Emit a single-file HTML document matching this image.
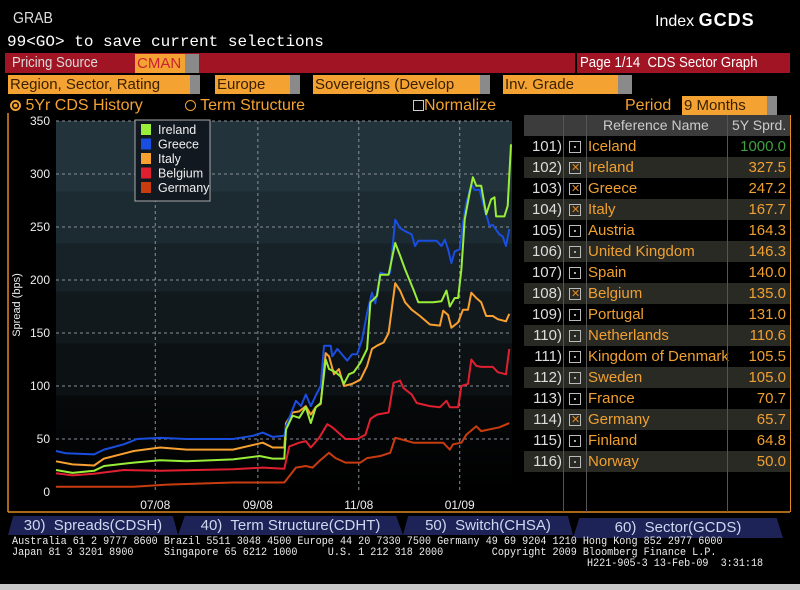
<!DOCTYPE html>
<html><head><meta charset="utf-8">
<style>
*{margin:0;padding:0;box-sizing:border-box}
html,body{width:800px;height:590px;background:#000;overflow:hidden;font-family:"Liberation Sans",sans-serif;color:#ddd;position:relative}
.a{position:absolute;white-space:nowrap}
.t{font-size:15px;transform-origin:0 50%;transform:scaleX(0.88);line-height:18px}
.box{position:absolute;height:19px;background:#f4a232;color:#3a2000;font-size:15px;line-height:19px;padding-left:2px;overflow:hidden;white-space:nowrap}
.tail{position:absolute;height:19px;background:#8a8a8a}
.tab{position:absolute;top:516px;height:19px;background:#1d2356;color:#cdd8f0;font-size:15px;line-height:19px;text-align:center;clip-path:polygon(3% 0,97% 0,100% 100%,0 100%)}
.foot{font-family:"Liberation Mono",monospace;font-size:11px;color:#eee;line-height:11px;transform-origin:0 0;transform:scaleX(0.92)}
</style></head>
<body>
<div class="a t" style="left:13px;top:10px;font-size:16px">GRAB</div>
<div class="a" style="left:655px;top:10px;font-size:16px;color:#fff">Index <b style="font-size:18px;letter-spacing:1px">GCDS</b></div>
<div class="a" style="left:7px;top:33px;font-family:'Liberation Mono',monospace;font-size:16px;color:#fff">99&lt;GO&gt; to save current selections</div>

<div class="a" style="left:5px;top:53px;width:570px;height:20px;background:#a01424"></div>
<div class="a" style="left:577px;top:53px;width:213px;height:20px;background:#a01424"></div>
<div class="a t" style="left:12px;top:54px;color:#ddd">Pricing Source</div>
<div class="box" style="left:135px;top:54px;width:50px;color:#c23">CMAN</div>
<div class="tail" style="left:185px;top:54px;width:14px"></div>
<div class="a t" style="left:580px;top:54px;color:#fff">Page 1/14&nbsp; CDS Sector Graph</div>

<div class="box" style="left:8px;top:75px;width:182px">Region, Sector, Rating</div>
<div class="tail" style="left:190px;top:75px;width:10px"></div>
<div class="box" style="left:215px;top:75px;width:75px">Europe</div>
<div class="tail" style="left:290px;top:75px;width:10px"></div>
<div class="box" style="left:313px;top:75px;width:167px">Sovereigns (Develop</div>
<div class="tail" style="left:480px;top:75px;width:10px"></div>
<div class="box" style="left:503px;top:75px;width:115px">Inv. Grade</div>
<div class="tail" style="left:618px;top:75px;width:14px"></div>

<div class="a" style="left:10px;top:97px;font-size:16px;color:#f4a232"><span style="display:inline-block;width:11px;height:11px;border-radius:50%;border:2px solid #f4a232;background:radial-gradient(#f4a232 40%,#000 45%);vertical-align:-1px"></span> 5Yr CDS History</div>
<div class="a" style="left:185px;top:97px;font-size:16px;color:#f4a232"><span style="display:inline-block;width:11px;height:11px;border-radius:50%;border:1.5px solid #f4a232;vertical-align:-1px"></span> Term Structure</div>
<div class="a" style="left:413px;top:97px;font-size:16px;color:#f4a232"><span style="display:inline-block;width:11px;height:11px;border:1px solid #ccc;vertical-align:-1px"></span>Normalize</div>
<div class="a" style="left:625px;top:97px;font-size:16px;color:#f4a232">Period</div>
<div class="box" style="left:682px;top:96px;width:85px;height:19px">9 Months</div>
<div class="tail" style="left:767px;top:96px;width:10px"></div>

<svg id="chart" class="a" style="left:0;top:0" width="800" height="590">
<defs>
<linearGradient id="bg" x1="0" y1="0" x2="0" y2="1">
<stop offset="0" stop-color="#22333c"/><stop offset="0.19" stop-color="#22333c"/>
<stop offset="0.19" stop-color="#1c2a32"/><stop offset="0.33" stop-color="#1c2a32"/>
<stop offset="0.33" stop-color="#172128"/><stop offset="0.46" stop-color="#172128"/>
<stop offset="0.46" stop-color="#12191d"/><stop offset="0.6" stop-color="#12191d"/>
<stop offset="0.6" stop-color="#0c1114"/><stop offset="0.74" stop-color="#0c1114"/>
<stop offset="0.74" stop-color="#06090a"/><stop offset="0.85" stop-color="#040506"/>
<stop offset="1" stop-color="#000"/></linearGradient>
</defs>
<line x1="8" y1="113" x2="8" y2="512" stroke="#e08a20" stroke-width="1.5"/>
<line x1="8" y1="512" x2="790" y2="512" stroke="#e08a20" stroke-width="1.5"/>
<rect x="56" y="121" width="456" height="371" fill="url(#bg)"/>
<g id="grid"></g><g id="lines"></g><g id="axes"></g>
<text transform="translate(20,305) rotate(-90)" text-anchor="middle" font-size="11" fill="#eee">Spread (bps)</text>
<g>
<rect x="135" y="120" width="75" height="81" fill="#111820" stroke="#aaa" stroke-width="1"/>
</g><g id="legend"></g>
</svg>

<div id="table" class="a" style="left:524px;top:115px;width:267px;height:397px;border-right:1px solid #e08a20"></div>

<div class="tab" style="left:8px;width:170px">30)&nbsp; Spreads(CDSH)</div>
<div class="tab" style="left:178px;width:225px">40)&nbsp; Term Structure(CDHT)</div>
<div class="tab" style="left:403px;width:170px">50)&nbsp; Switch(CHSA)</div>
<div class="tab" style="left:573px;width:210px;top:518px;height:20px">60)&nbsp; Sector(GCDS)</div>

<div class="a foot" style="left:12px;top:537px">Australia 61 2 9777 8600 Brazil 5511 3048 4500 Europe 44 20 7330 7500 Germany 49 69 9204 1210 Hong Kong 852 2977 6000</div>
<div class="a foot" style="left:12px;top:548px">Japan 81 3 3201 8900&nbsp;&nbsp;&nbsp;&nbsp; Singapore 65 6212 1000&nbsp;&nbsp;&nbsp;&nbsp; U.S. 1 212 318 2000&nbsp;&nbsp;&nbsp;&nbsp;&nbsp;&nbsp;&nbsp; Copyright 2009 Bloomberg Finance L.P.</div>
<div class="a foot" style="left:587px;top:559px">H221-905-3 13-Feb-09&nbsp; 3:31:18</div>
<div class="a" style="left:0;top:584px;width:800px;height:6px;background:#c8c8c8"></div>

<script>
const yTicks=[0,50,100,150,200,250,300,350];
const xTickDays=[60,122,183,244];
const xTickLabels=["07/08","09/08","11/08","01/09"];
const seriesNames=["Ireland","Greece","Italy","Belgium","Germany"];
const seriesColors=["#9aee3a","#1a4ee0","#f8a030","#e02030","#c83c10"];
const irelandDays=[0,10,23,29,47,63,79,107,123,131,138,139,143,147,151,154,157,160,163,165,169,172,174,177,180,184,188,190,194,196,201,205,208,211,216,219,228,233,236,238,241,243,245,247,250,252,254,257,260,263,265,266,271,273,275];
const irelandValues=[20.8,18,20,24.5,27.7,30,29,30.8,34,31.5,31.5,59,72,70,80,65,80,84,125,116,113,109,102,111,113,122,135,179,185,205,205,235,223,210,191,179,179,180,190,175,183,183,210,257,282,297,289,289,262,276,278,260,260,270,328];
const greeceDays=[0,6,23,29,41,49,63,79,107,119,125,131,138,139,143,145,148,151,154,157,160,162,166,167,170,176,179,182,185,188,191,193,196,200,202,205,208,211,215,217,219,224,230,233,235,237,239,241,244,246,248,251,253,256,259,262,264,268,270,272,274];
const greeceValues=[38.7,36.5,35.5,40,45,50,51,50,50,53,56,52,53,62,78,86,81,92,81,91,100,138,138,128,135,124,130,130,144,169,188,178,207,205,207,257,249,246,243,232,237,237,237,232,238,229,216,227,229,254,273,290,285,285,267,251,252,243,241,232,248];
const italyDays=[0,10,23,29,47,63,79,107,125,131,138,139,143,147,151,154,157,160,163,165,168,171,174,179,184,188,191,194,198,201,205,208,211,215,220,226,232,234,237,239,243,246,249,251,254,257,260,264,267,272,274];
const italyValues=[29,26,25,31.5,38.7,42,40,40,46.5,42,42,65,75,76,81,73,80,83,131,128,111,116,100,102,106,119,135,138,141,150,197,190,179,172,166,158,157,171,167,155,160,172,172,188,183,179,166,166,163,161,168];
const belgiumDays=[0,10,23,41,63,107,125,138,141,147,151,154,159,164,167,175,182,187,190,194,201,204,208,210,215,218,226,232,236,238,243,245,249,251,254,257,264,267,272,274];
const belgiumValues=[17.6,15.7,17.3,20.8,20,21.4,23,22,43,46.5,48,42,51,64,61,50,50,54,69,73,75,103,105,98,92,84,81,80,86,80,80,100,102,125,119,118,118,113,111,135];
const germanyDays=[0,47,67,107,138,141,145,151,155,159,165,169,175,184,188,196,202,205,208,216,234,238,240,245,248,254,257,268,274];
const germanyValues=[5,5,7,9,9,15,23,24.5,23,29,37,32,27.7,27.7,32,34,37,51,50,46.5,46.5,40,45,46.5,54,62,57.5,61,65];
const allDays=[irelandDays,greeceDays,italyDays,belgiumDays,germanyDays];
const allValues=[irelandValues,greeceValues,italyValues,belgiumValues,germanyValues];
const tableNums=["101)","102)","103)","104)","105)","106)","107)","108)","109)","110)","111)","112)","113)","114)","115)","116)"];
const tableNames=["Iceland","Ireland","Greece","Italy","Austria","United Kingdom","Spain","Belgium","Portugal","Netherlands","Kingdom of Denmark","Sweden","France","Germany","Finland","Norway"];
const tableValues=["1000.0","327.5","247.2","167.7","164.3","146.3","140.0","135.0","131.0","110.6","105.5","105.0","70.7","65.7","64.8","50.0"];
const tableChecked=[0,1,1,1,0,0,0,1,0,0,0,0,0,1,0,0];

const NS="http://www.w3.org/2000/svg";
const X0=56,X1=511,Y0=492,Y1=121,DMAX=275,VMAX=350;
function xs(d){return X0+(X1-X0)*d/DMAX;}
function ys(v){return Y0-(Y0-Y1)*v/VMAX;}
function mk(tag,attrs,parent){const e=document.createElementNS(NS,tag);for(const k in attrs)e.setAttribute(k,attrs[k]);parent.appendChild(e);return e;}
const grid=document.getElementById('grid'),axes=document.getElementById('axes'),lines=document.getElementById('lines'),leg=document.getElementById('legend');
yTicks.forEach(v=>{
  if(v>0){const l=mk('line',{x1:X0,x2:X1,y1:ys(v),y2:ys(v),stroke:'#8a9098','stroke-width':1,'stroke-dasharray':'3,3'},grid);
  
  }
  const t=mk('text',{x:50,y:ys(v)+4,'text-anchor':'end','font-size':12,fill:'#eee'},axes);t.textContent=v;
  
  
});
xTickDays.forEach((d,i)=>{
  const l=mk('line',{x1:xs(d),x2:xs(d),y1:Y1,y2:Y0,stroke:'#8a9098','stroke-width':1,'stroke-dasharray':'3,3'},grid);
  
  
  const t=mk('text',{x:xs(d),y:509,'text-anchor':'middle','font-size':12,fill:'#eee'},axes);t.textContent=xTickLabels[i];
  
  
});
for(let s=seriesNames.length-1;s>=0;s--){
  const pts=allDays[s].map((d,i)=>xs(d).toFixed(1)+','+ys(allValues[s][i]).toFixed(1)).join(' ');
  const p=mk('polyline',{points:pts,fill:'none',stroke:seriesColors[s],'stroke-width':2,'stroke-linejoin':'round'},lines);
  
  
}
seriesNames.forEach((n,i)=>{
  const y=124+i*14.5;
  const r=mk('rect',{x:141,y:y,width:10,height:11,fill:seriesColors[i]},leg);
  
  
  const t=mk('text',{x:158,y:y+10,'font-size':12.5,fill:'#eee'},leg);t.textContent=n;
  
  
});
const tb=document.getElementById('table');
tb.innerHTML='<div style="position:absolute;left:0;top:0;width:266px;height:21px;background:#3c3c3c"></div>'+
'<div style="position:absolute;left:79px;top:2px;font-size:14px;color:#ccc">Reference Name</div>'+
'<div style="position:absolute;left:208px;top:2px;font-size:14px;color:#ccc">5Y Sprd.</div>';
tableNames.forEach((n,i)=>{
  const row=document.createElement('div');
  
  
  row.style.cssText='position:absolute;left:0;top:'+(21+i*21)+'px;width:266px;height:21px;font-size:15px;line-height:21px;background:'+(i%2?'#2a2a25':'#000');
  const chk=tableChecked[i]?'<span style="position:absolute;left:1px;top:0;font-size:11px;color:#e08a20;line-height:10px">✕</span>':'<span style="position:absolute;left:4px;top:4px;width:2px;height:2px;background:#aaa"></span>';
  row.innerHTML='<span style="position:absolute;right:228px;color:#ddd;font-size:15px">'+tableNums[i]+'</span>'+
   '<span style="position:absolute;left:45px;top:5px;width:12px;height:12px;border:1px solid #bbb">'+chk+'</span>'+
   '<span style="position:absolute;left:64px;color:#f0a030">'+n+'</span>'+
   '<span style="position:absolute;right:4px;color:'+(i==0?'#40a040':'#f0a030')+'">'+tableValues[i]+'</span>';
  tb.appendChild(row);
});
['39px','62px','203px'].forEach(x=>{const d=document.createElement('div');d.style.cssText='position:absolute;top:0;bottom:0;left:'+x+';width:1px;background:#555';tb.appendChild(d);});
</script>
</body></html>
